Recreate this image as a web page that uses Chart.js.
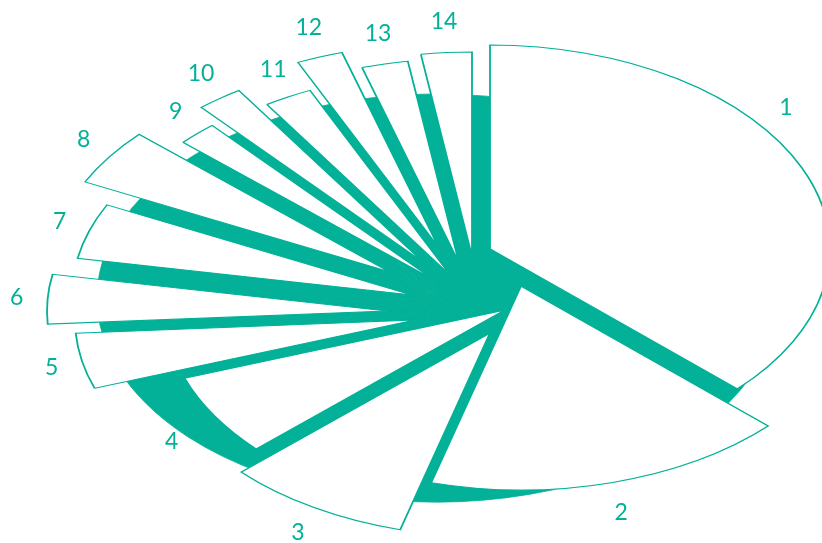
<!DOCTYPE html>
<html lang="en">
<head>
<meta charset="UTF-8">
<title>Exploded 3D pie</title>
<script src="https://cdn.jsdelivr.net/npm/chart.js"></script>
<style>
    body {
        margin: 0;
        background: #ffffff;
    }
    .wrap {
        position: relative;
        width: 822px;
        height: 543px;
    }
</style>
</head>
<body>
<div class="wrap"><canvas id="pie"></canvas></div>

<script>
    const categories = ['1', '2', '3', '4', '5', '6', '7', '8', '9', '10', '11', '12', '13', '14'];
    const shares = [37.0, 17.2, 8.8, 6.5, 4.4, 3.9, 4.4, 4.5, 1.9, 2.2, 2.3, 2.2, 2.2, 2.4];

    const TEAL = '#02b197';

    // top face of each slice is lifted off the teal base by this much (screen px)
    const lifts = [[53, -49], [84, -12], [53, 35], [68, 12], [-22, 22], [-50, 13], [-25, -3],
                   [-47, -26], [-3, -18], [-14, -36], [14, -22], [2, -50], [22, -35], [35, -42]];

    const pie3d = {
        id: 'pie3d',
        beforeDatasetsDraw(chart, args, opts) {
            const ctx = chart.ctx;
            const arcs = chart.getDatasetMeta(0).data;
            const cx = arcs[0].x, cy = arcs[0].y;
            const flatten = () => {
                ctx.translate(cx, cy);
                ctx.scale(1, opts.squash);
                ctx.translate(-cx, -cy);
            };

            // teal base
            ctx.save();
            flatten();
            arcs.forEach(arc => {
                const o = arc.options;
                arc.options = Object.assign({}, o, {backgroundColor: TEAL, borderColor: TEAL, borderWidth: 1});
                arc.draw(ctx);
                arc.options = o;
            });
            ctx.restore();

            // white top faces
            arcs.forEach((arc, i) => {
                ctx.save();
                ctx.translate(opts.lifts[i][0], opts.lifts[i][1]);
                flatten();
                arc.draw(ctx);
                ctx.restore();
            });
            return false;
        },
        afterDraw(chart, args, opts) {
            const ctx = chart.ctx;
            const arcs = chart.getDatasetMeta(0).data;
            const R = arcs[0].outerRadius, k = opts.squash;
            // is a point inside the teal base ellipse?
            const inBase = (x, y) => ((x - arcs[0].x) / R) ** 2 + ((y - arcs[0].y) / (R * k)) ** 2 < 1;

            ctx.save();
            ctx.font = '23px Lato';
            ctx.fillStyle = TEAL;
            ctx.textAlign = 'center';
            ctx.textBaseline = 'middle';
            arcs.forEach((arc, i) => {
                const [dx, dy] = opts.lifts[i];
                let gap = opts.gap;
                const at = a => [
                    arc.x + dx + R * Math.cos(a) + gap * Math.cos(a),
                    arc.y + dy + R * k * Math.sin(a) + gap * Math.sin(a)
                ];
                let a = (arc.startAngle + arc.endAngle) / 2;
                let p = at(a);
                // keep the label inside the picture
                while (p[0] > chart.width - 34 && a > -Math.PI / 2) {
                    a -= 0.01;
                    p = at(a);
                }
                // and clear of the teal base
                while (inBase(p[0] - 14 * Math.cos(a), p[1] - 14 * Math.sin(a)) && gap < 120) {
                    gap += 1;
                    p = at(a);
                }
                ctx.fillText(chart.data.labels[i], Math.max(p[0], 15), Math.min(p[1], chart.height - 10));
            });
            ctx.restore();
        }
    };

    new Chart(document.getElementById('pie'), {
        type: 'pie',
        data: {
            labels: categories,
            datasets: [{
                data: shares,
                backgroundColor: '#ffffff',
                borderColor: TEAL,
                borderWidth: 1.8,
                borderJoinStyle: 'miter',
                clip: false
            }]
        },
        options: {
            responsive: true,
            maintainAspectRatio: false,
            animation: false,
            radius: 340,
            layout: {
                padding: {left: 52, top: 53, right: 0, bottom: 0}
            },
            plugins: {
                legend: {display: false},
                tooltip: {enabled: false},
                pie3d: {squash: 0.6, gap: 31, lifts: lifts}
            }
        },
        plugins: [pie3d]
    });
</script>
</body>
</html>
